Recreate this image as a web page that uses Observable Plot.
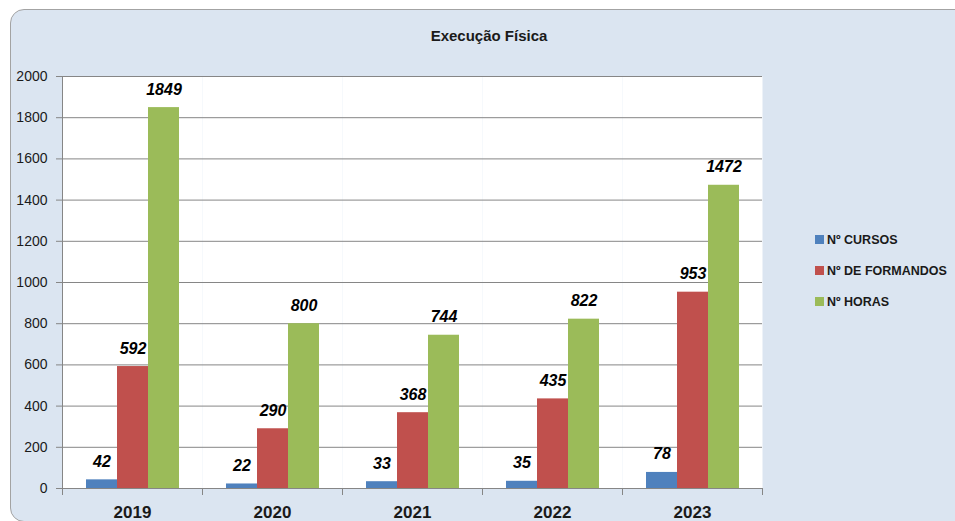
<!DOCTYPE html>
<html>
<head>
<meta charset="utf-8">
<script src="https://cdn.jsdelivr.net/npm/d3@7"></script>
<script src="https://cdn.jsdelivr.net/npm/@observablehq/plot@0.6"></script>
<style>
  html, body { margin: 0; padding: 0; background: #ffffff; width: 955px; height: 521px; overflow: hidden; font-family: "Liberation Sans", Arial, sans-serif; }
  #panel { position: absolute; left: 10px; top: 9px; width: 980px; height: 511px; background: #dbe5f1; border: 1px solid #a3a3a3; border-radius: 14px; }
  #title { position: absolute; left: 0; top: 27px; width: 978px; text-align: center; font-size: 15px; line-height: 18px; font-weight: bold; color: #1a1a1a; }
  #chart { position: absolute; left: 0; top: 0; }
  #legend { position: absolute; left: 815px; top: 224px; }
  .item { display: flex; align-items: center; height: 31px; font-size: 12.5px; font-weight: bold; color: #1a1a1a; white-space: nowrap; }
  .sw { width: 9px; height: 9px; margin-right: 3px; }
</style>
</head>
<body>
<div id="panel"></div>
<div id="title">Execução Física</div>
<div id="chart"></div>
<div id="legend"></div>
<script>
const years = ["2019", "2020", "2021", "2022", "2023"];
const series = ["Nº CURSOS", "Nº DE FORMANDOS", "Nº HORAS"];
const colors = ["#4f81bd", "#c0504d", "#9bbb59"];
const cursos = [42, 22, 33, 35, 78];
const formandos = [592, 290, 368, 435, 953];
const horas = [1849, 800, 744, 822, 1472];
const yTicks = [0, 200, 400, 600, 800, 1000, 1200, 1400, 1600, 1800, 2000];

const values = [cursos, formandos, horas];
const data = [];
years.forEach((yr, i) => {
  series.forEach((s, j) => data.push({year: yr, series: s, value: values[j][i]}));
});

const W = 955, H = 521, mt = 76, mb = 33, ml = 62, mr = 193;
const innerH = H - mt - mb;
const grey = "#868686";

const chart = Plot.plot({
  width: W,
  height: H,
  marginTop: mt,
  marginBottom: mb,
  marginLeft: ml,
  marginRight: mr,
  style: {fontFamily: "Liberation Sans, Arial, sans-serif", background: "transparent", color: "#1a1a1a"},
  fx: {domain: years, padding: 0, label: null},
  x: {domain: series, axis: null, paddingInner: 0, paddingOuter: 0.74},
  y: {domain: [0, 2000], label: null},
  color: {domain: series, range: colors},
  marks: [
    Plot.frame({fill: "white", stroke: "none"}),
    Plot.gridY(yTicks, {stroke: grey, strokeOpacity: 1}),
    Plot.barY(data, {fx: "year", x: "series", y: "value", fill: "series"}),
    Plot.text(data, {fx: "year", x: "series", y: "value", text: d => String(d.value),
      lineAnchor: "bottom", dy: -13, fontSize: 16, fontWeight: "bold", fontStyle: "italic", fill: "#000"}),
    Plot.ruleY([0], {stroke: grey}),
    Plot.frame({anchor: "left", facetAnchor: "left", stroke: grey, insetBottom: -6}),
    Plot.frame({anchor: "right", stroke: grey, insetTop: innerH, insetBottom: -6}),
    Plot.axisY(yTicks, {anchor: "left", tickSize: 6, tickPadding: 9, fontSize: 14, stroke: grey, fill: "#1a1a1a", label: null, tickFormat: d => String(d)}),
    Plot.axisFx({anchor: "bottom", tickSize: 0, tickPadding: 17, fontSize: 17, fontWeight: "bold", fill: "#1a1a1a", label: null})
  ]
});
document.getElementById("chart").appendChild(chart);

const legend = document.getElementById("legend");
series.forEach((s, j) => {
  const item = document.createElement("div");
  item.className = "item";
  const sw = document.createElement("div");
  sw.className = "sw";
  sw.style.background = colors[j];
  const t = document.createElement("span");
  t.textContent = s;
  item.appendChild(sw);
  item.appendChild(t);
  legend.appendChild(item);
});
</script>
</body>
</html>
